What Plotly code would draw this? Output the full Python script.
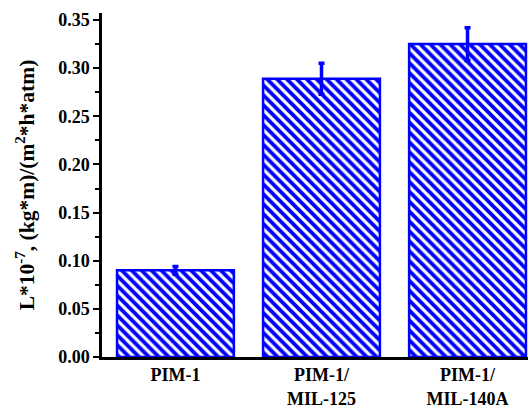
import plotly.graph_objects as go

categories = ["PIM-1", "PIM-1/<br>MIL-125", "PIM-1/<br>MIL-140A"]
values = [0.090, 0.289, 0.325]
errors = [0.004, 0.016, 0.017]
y_ticks = [0.00, 0.05, 0.10, 0.15, 0.20, 0.25, 0.30, 0.35]

blue = "#0000ff"
font_family = "Liberation Serif, Times New Roman, serif"

fig = go.Figure()
fig.add_trace(go.Bar(
    x=[0, 1, 2], y=values, width=0.8,
    marker=dict(color="white", line=dict(color=blue, width=2.5),
                pattern=dict(shape="\\", fgcolor=blue, bgcolor="white", fgopacity=1,
                             size=7, solidity=0.55)),
    error_y=dict(type="data", array=errors, visible=True, color=blue, thickness=3.5, width=3),
))

fig.update_layout(
    width=530, height=410,
    margin=dict(l=102, r=2, t=13, b=53),
    plot_bgcolor="white", paper_bgcolor="white",
    showlegend=False,
    font=dict(family=font_family, color="black"),
    xaxis=dict(
        range=[-0.503, 2.414],
        tickmode="array", tickvals=[0, 1, 2], ticktext=["<b>%s</b>" % c for c in categories],
        tickfont=dict(size=18, family=font_family),
        showline=True, linecolor="black", linewidth=2.5,
        ticks="", showgrid=False, zeroline=False,
    ),
    yaxis=dict(
        range=[0, 0.3573],
        tickmode="array", tickvals=y_ticks, ticktext=["<b>%.2f</b>" % v for v in y_ticks],
        tickfont=dict(size=18, family=font_family),
        showline=True, linecolor="black", linewidth=2.5,
        ticks="outside", ticklen=6, tickwidth=2, tickcolor="black",
        minor=dict(dtick=0.025, ticks="outside", ticklen=4, tickwidth=2, tickcolor="black"),
        showgrid=False, zeroline=False,
        title=dict(text="<b>L*10<sup>-7</sup>, (kg*m)/(m<sup>2</sup>*h*atm)</b>",
                   font=dict(size=21.5, family=font_family), standoff=18),
    ),
)

fig.write_html("out.html")
